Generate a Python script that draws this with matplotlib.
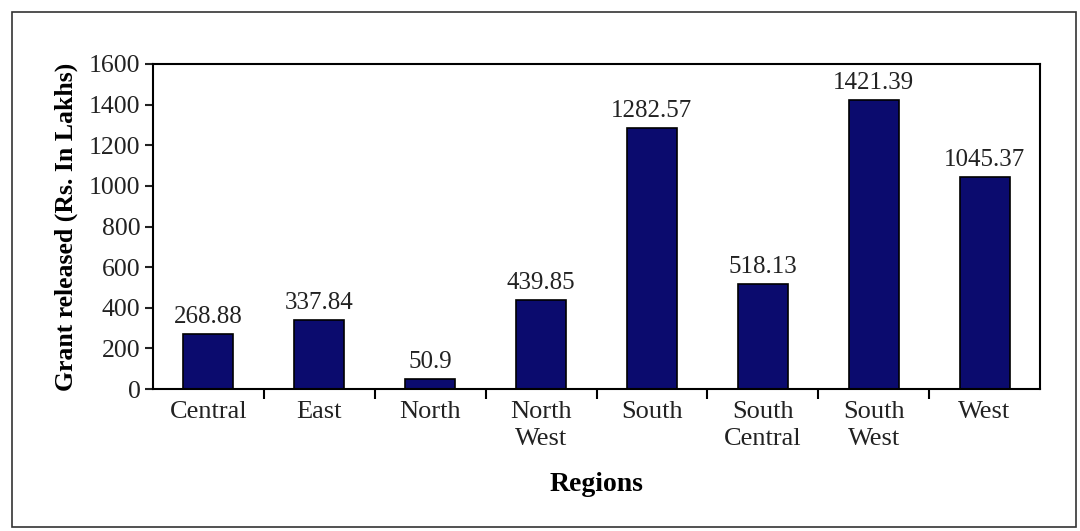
import numpy as np
import matplotlib.pyplot as plt
from matplotlib.patches import Rectangle

regions = ['Central', 'East', 'North', 'North\nWest', 'South', 'South\nCentral', 'South\nWest', 'West']
grant = [268.88, 337.84, 50.9, 439.85, 1282.57, 518.13, 1421.39, 1045.37]
labels = ['268.88', '337.84', '50.9', '439.85', '1282.57', '518.13', '1421.39', '1045.37']

plt.rcParams['font.family'] = ['Liberation Serif', 'DejaVu Serif']

fig = plt.figure(figsize=(10.8, 5.31), dpi=100)
fig.patch.set_facecolor('white')
W, H = 1080, 531
ax = fig.add_axes([153 / W, 1 - 389 / H, (1040 - 153) / W, (389 - 64) / H])

x = np.arange(len(regions))
ax.bar(x, grant, width=0.45, color='#0b0b6e', edgecolor='black', linewidth=1.2)
for xi, v, t in zip(x, grant, labels):
    ax.text(xi, v + 30, t, ha='center', va='bottom', fontsize=18, color='#222222')

ax.set_xlim(-0.5, len(regions) - 0.5)
ax.set_ylim(0, 1600)
ax.set_yticks(np.arange(0, 1601, 200))
ax.tick_params(axis='y', labelsize=18.5, length=6, width=1.5, direction='out', colors='#222222', pad=3)
ax.set_xticks(x)
ax.set_xticklabels(regions, fontsize=19, color='#222222', linespacing=1.25)
ax.tick_params(axis='x', length=0, pad=9)
ax.set_xticks(np.arange(0.5, len(regions) - 0.5, 1), minor=True)
ax.tick_params(axis='x', which='minor', length=7, width=1.5, direction='out')
for s in ax.spines.values():
    s.set_linewidth(1.5)

ax.set_ylabel('Grant released (Rs. In Lakhs)', fontsize=18.5, fontweight='bold', labelpad=8)
ax.set_xlabel('Regions', fontsize=20, fontweight='bold', labelpad=16)

fig.add_artist(Rectangle((12 / W, 1 - 527 / H), (1076 - 12) / W, (527 - 12) / H,
                         transform=fig.transFigure, fill=False, edgecolor='#333333', linewidth=1.2))

fig.savefig('out.png', dpi=100)
